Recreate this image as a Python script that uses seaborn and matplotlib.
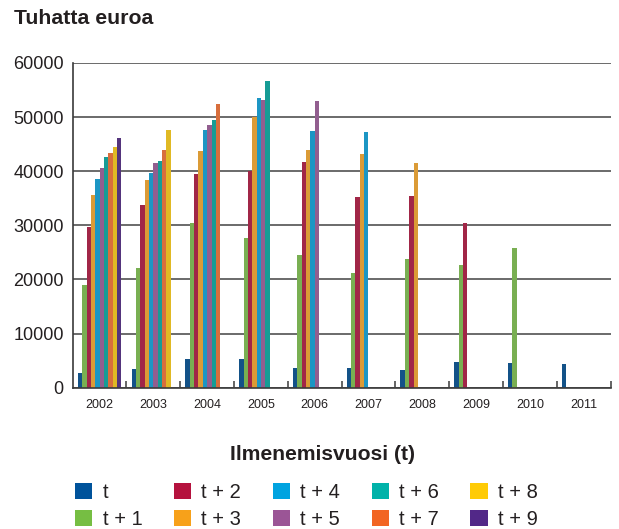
import numpy as np
import pandas as pd
import matplotlib
matplotlib.use("Agg")
import matplotlib.pyplot as plt
from matplotlib.patches import Patch
from matplotlib.ticker import FixedLocator
import seaborn as sns

# Loss-occurrence years and development lags (thousand euros)
years = ["2002", "2003", "2004", "2005", "2006", "2007", "2008", "2009", "2010", "2011"]
lags = ["t", "t + 1", "t + 2", "t + 3", "t + 4", "t + 5", "t + 6", "t + 7", "t + 8", "t + 9"]
nan = np.nan

lag_t  = [2800, 3500, 5350, 5350, 3700, 3700, 3300, 4800, 4600, 4400]
lag_t1 = [19000, 22100, 30400, 27700, 24500, 21200, 23800, 22700, 25800, nan]
lag_t2 = [29700, 33800, 39500, 40000, 41700, 35200, 35400, 30400, nan, nan]
lag_t3 = [35600, 38400, 43700, 50000, 43900, 43200, 41500, nan, nan, nan]
lag_t4 = [38600, 39700, 47600, 53500, 47400, 47200, nan, nan, nan, nan]
lag_t5 = [40600, 41500, 48500, 53100, 52900, nan, nan, nan, nan, nan]
lag_t6 = [42600, 41900, 49400, 56600, nan, nan, nan, nan, nan, nan]
lag_t7 = [43400, 43900, 52400, nan, nan, nan, nan, nan, nan, nan]
lag_t8 = [44500, 47600, nan, nan, nan, nan, nan, nan, nan, nan]
lag_t9 = [46100, nan, nan, nan, nan, nan, nan, nan, nan, nan]

colors = ["#00539B", "#76BE43", "#B5123E", "#F7A11A", "#00A3E0",
          "#9B5596", "#00B2A9", "#F26522", "#FFCB05", "#522888"]

series = [lag_t, lag_t1, lag_t2, lag_t3, lag_t4, lag_t5, lag_t6, lag_t7, lag_t8, lag_t9]
rows = []
for lag, vals in zip(lags, series):
    for yr, v in zip(years, vals):
        rows.append({"vuosi": yr, "viive": lag, "arvo": v})
df = pd.DataFrame(rows).dropna()

sns.set_style("white")
plt.rcParams["font.family"] = ["Liberation Sans", "DejaVu Sans"]
text_col = "#231f20"
axis_col = "#3a3a3a"

fig = plt.figure(figsize=(6.19, 5.29), dpi=100)
ax = fig.add_axes([72.7 / 619, 1 - 387.7 / 529, (610.5 - 72.7) / 619, (387.7 - 63) / 529])

sns.barplot(data=df, x="vuosi", y="arvo", hue="viive", order=years, hue_order=lags,
            palette=dict(zip(lags, colors)), width=0.81, dodge=True,
            linewidth=0, legend=False, ax=ax, zorder=3)

ax.set_xlim(-0.5, len(years) - 0.5)
ax.set_ylim(0, 60000)
ax.set_yticks(np.arange(0, 60001, 10000))
ax.set_yticklabels([str(v) for v in range(0, 60001, 10000)])
ax.yaxis.grid(True, color="#5f5f5f", linewidth=1.3, zorder=0)
ax.xaxis.grid(False)
ax.set_axisbelow(True)

for side in ("top", "right"):
    ax.spines[side].set_visible(False)
for side in ("left", "bottom"):
    ax.spines[side].set_color(axis_col)
    ax.spines[side].set_linewidth(1.2)
    ax.spines[side].set_zorder(4)

ax.tick_params(axis="y", length=0, pad=6.5, labelsize=13, labelcolor=text_col)
ax.tick_params(axis="x", which="major", length=0, pad=8, labelsize=9, labelcolor=text_col)
ax.xaxis.set_minor_locator(FixedLocator(np.arange(0.5, len(years), 1.0)))
ax.tick_params(axis="x", which="minor", direction="in", length=5, width=1.1,
               color=axis_col, bottom=True)
ax.set_xlabel("")
ax.set_ylabel("")

fig.text(14 / 619, 1 - 18 / 529, "Tuhatta euroa", fontsize=15.3, fontweight="bold",
         color=text_col, ha="left", va="center")
fig.text(322 / 619, 1 - 455 / 529, "Ilmenemisvuosi (t)", fontsize=15.2, fontweight="bold",
         color=text_col, ha="center", va="center")

handles = [Patch(facecolor=c, edgecolor="none", label=l) for c, l in zip(colors, lags)]
fig.legend(handles=handles, loc="upper left", bbox_to_anchor=(75 / 619, 1 - 483 / 529),
           ncol=5, frameon=False, fontsize=14.5, handlelength=0.85, handleheight=0.85,
           handletextpad=0.52, columnspacing=1.56, labelspacing=0.38,
           borderpad=0, borderaxespad=0, labelcolor=text_col)

fig.savefig("out.png", dpi=100)
